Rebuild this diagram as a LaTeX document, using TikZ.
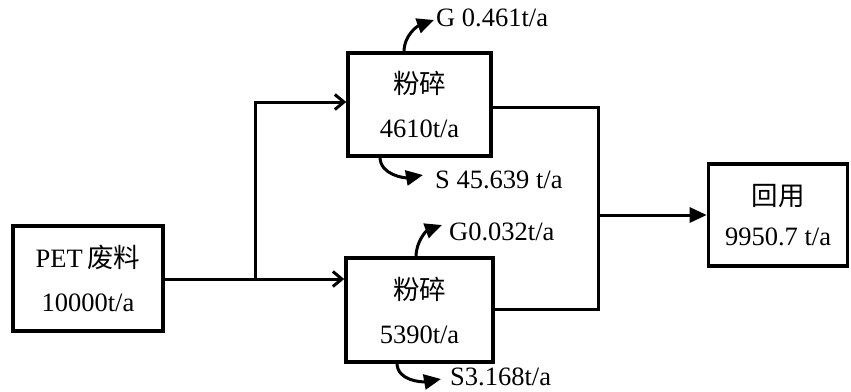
\documentclass[tikz,border=0pt]{standalone}
\usepackage{fontspec}
\setmainfont{Liberation Serif}
\newfontfamily\cjk{Noto Sans CJK SC}
\usetikzlibrary{arrows.meta}
\begin{document}
\begin{tikzpicture}[x=1pt,y=-1pt,
  every node/.style={font=\fontsize{26.5}{44}\selectfont},
  procbox/.style={draw,line width=3.6pt,align=center,inner sep=0pt},
  flow/.style={line width=3pt},
  openarrow/.style={flow,-{Straight Barb[length=9pt,width=15pt,line width=3pt]}},
  fillarrow/.style={flow,-{Triangle[length=17pt,width=15pt]}},
  curvearrow/.style={line width=3pt,-{Triangle[length=17pt,width=15pt]}},
  lbl/.style={anchor=west,inner sep=0pt}]
\useasboundingbox (0,0) rectangle (851,391);

% process boxes
\node[procbox,minimum width=150pt,minimum height=105pt] (pet) at (88,278.5)
  {PET\,{\cjk 废料}\\10000t/a};
\node[procbox,minimum width=143pt,minimum height=103pt] (c1) at (419.5,104.5)
  {{\cjk 粉碎}\\4610t/a};
\node[procbox,minimum width=147pt,minimum height=104pt] (c2) at (419.5,310)
  {{\cjk 粉碎}\\5390t/a};
\node[procbox,minimum width=139pt,minimum height=102pt,
  font=\fontsize{26.5}{40}\selectfont] (reuse) at (778,215)
  {{\cjk 回用}\\9950.7 t/a};

% split of the feed
\coordinate (split) at (255,279);
\coordinate (in1) at (c1.west |- 0,102);
\coordinate (in2) at (c2.west |- split);
\draw[flow] (pet.east |- split) -- (split);
\draw[openarrow] (split) -- (in2);
\draw[openarrow] (split) |- (in1);

% merge into reuse
\coordinate (merge) at (598,215);
\coordinate (out1) at (c1.east |- 0,107);
\coordinate (out2) at (c2.east |- 0,309);
\draw[flow] (out1) -| (merge |- out2) -- (out2);
\draw[fillarrow] (merge) -- (reuse.west);

% emissions of the first crusher
\coordinate (g1s) at (404,52);
\coordinate (g1e) at (434,20);
\coordinate (s1s) at (380,157);
\coordinate (s1e) at (423,175);
\draw[curvearrow] (g1s) to[out=90,in=200] (g1e);
\draw[curvearrow] (s1s) to[out=-90,in=190] (s1e);
\node[lbl] (g1) at (436,18) {G 0.461t/a};
\node[lbl] (s1) at (435,180) {S 45.639 t/a};

% emissions of the second crusher
\coordinate (g2s) at (416,257);
\coordinate (g2e) at (442,225);
\coordinate (s2s) at (397,363);
\coordinate (s2e) at (441,379);
\draw[curvearrow] (g2s) to[out=90,in=200] (g2e);
\draw[curvearrow] (s2s) to[out=-90,in=190] (s2e);
\node[lbl] (g2) at (449,232) {G0.032t/a};
\node[lbl] (s2) at (450,377) {S3.168t/a};
\end{tikzpicture}
\end{document}
